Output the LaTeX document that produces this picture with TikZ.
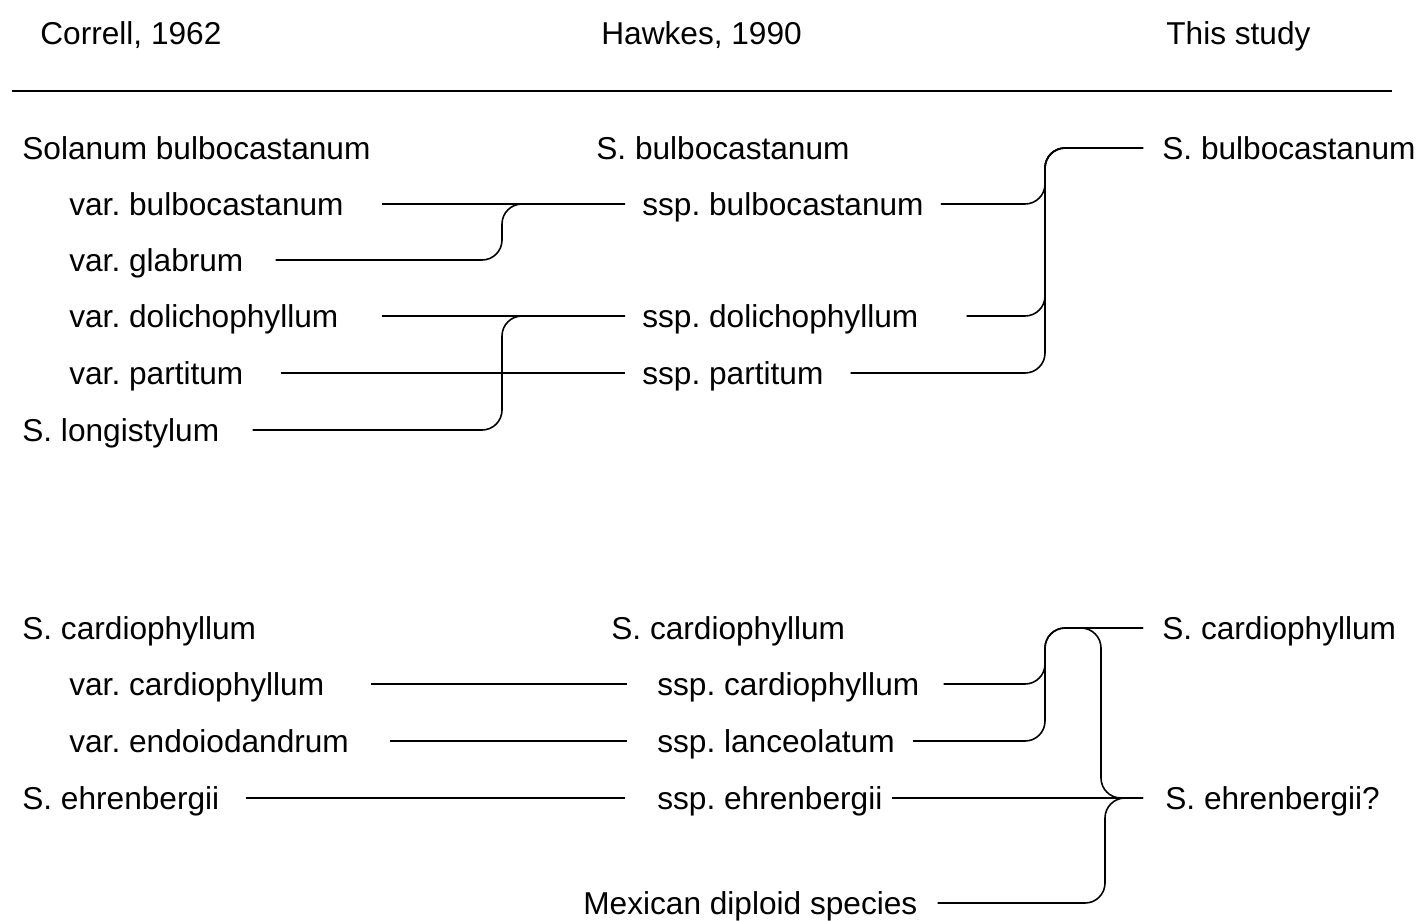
\documentclass[tikz,border=0pt]{standalone}
\usepackage{fontspec}
\setmainfont{Liberation Sans}
\frenchspacing
\usetikzlibrary{calc}

\begin{document}
\begin{tikzpicture}[
  x=0.02cm, y=-0.02cm,
  taxon/.style={anchor=west, inner sep=0pt, text height=13pt, text depth=0pt,
    font=\fontsize{18}{22}\selectfont},
  link/.style={line width=0.9pt, rounded corners=0.4cm,
    shorten <=0.74cm, shorten >=0.34cm},
]
\useasboundingbox (0,0) rectangle (1416,920);

% column heads
\node[taxon] (correll) at (40,33) {Correll, 1962};
\node[taxon] (hawkes) at (601,33) {Hawkes, 1990};
\node[taxon] (study) at (1166,33) {This study};
\draw[line width=1.3pt] (12,91) -- (1392,91);

% junction columns
\coordinate (jleft) at (502,0);
\coordinate (jright) at (1045,0);
\coordinate (jtop) at (1101,0);
\coordinate (jbot) at (1105,0);

% bulbocastanum group
\node[taxon] (cbulb) at (22,148) {Solanum bulbocastanum};
\node[taxon] (cvb) at (69,204) {var. bulbocastanum};
\node[taxon] (cvg) at (69,260) {var. glabrum};
\node[taxon] (cvd) at (69,316) {var. dolichophyllum};
\node[taxon] (cvp) at (69,373) {var. partitum};
\node[taxon] (clong) at (22,430) {S. longistylum};

\node[taxon] (hbulb) at (596,148) {S. bulbocastanum};
\node[taxon] (hsb) at (642,204) {ssp. bulbocastanum};
\node[taxon] (hsd) at (642,316) {ssp. dolichophyllum};
\node[taxon] (hsp) at (642,373) {ssp. partitum};

\node[taxon] (tbulb) at (1162,148) {S. bulbocastanum};

\draw[link, shorten <=0.76cm] (cvb.east) -- (hsb.west);
\draw[link, shorten <=0.64cm] (cvg.east) -| (jleft |- hsb.west) -- (hsb.west);
\draw[link, shorten <=0.86cm] (cvd.east) -- (hsd.west);
\draw[link] (cvp.east) -- (hsp.west);
\draw[link, shorten <=0.66cm] (clong.east) -| (jleft |- hsd.west) -- (hsd.west);

\draw[link, shorten <=0.34cm, shorten >=0.38cm] (hsb.east) -| (jright |- tbulb.west) -- (tbulb.west);
\draw[link, shorten <=0.96cm, shorten >=0.38cm] (hsd.east) -| (jright |- tbulb.west) -- (tbulb.west);
\draw[link, shorten <=0.54cm, shorten >=0.38cm] (hsp.east) -| (jright |- tbulb.west) -- (tbulb.west);

% cardiophyllum group
\node[taxon] (ccard) at (22,628) {S. cardiophyllum};
\node[taxon] (cvc) at (69,684) {var. cardiophyllum};
\node[taxon] (cve) at (69,741) {var. endoiodandrum};
\node[taxon] (cehr) at (22,798) {S. ehrenbergii};

\node[taxon] (hcard) at (611,628) {S. cardiophyllum};
\node[taxon] (hsc) at (657,684) {ssp. cardiophyllum};
\node[taxon] (hsl) at (657,741) {ssp. lanceolatum};
\node[taxon] (hse) at (657,798) {ssp. ehrenbergii};
\node[taxon] (mexican) at (583,903) {Mexican diploid species};

\node[taxon] (tcard) at (1162,628) {S. cardiophyllum};
\node[taxon] (tehr) at (1165,798) {S. ehrenbergii?};

\draw[link, shorten <=0.92cm, shorten >=0.6cm] (cvc.east) -- (hsc.west);
\draw[link, shorten <=0.82cm, shorten >=0.6cm] (cve.east) -- (hsl.west);
\draw[link, shorten <=0.52cm, shorten >=0.64cm] (cehr.east) -- (hse.west);

\draw[link, shorten <=0.48cm, shorten >=0.38cm] (hsc.east) -| (jright |- tcard.west) -- (tcard.west);
\draw[link, shorten <=0.36cm, shorten >=0.38cm] (hsl.east) -| (jright |- tcard.west) -- (tcard.west);
\draw[link, shorten <=0.18cm, shorten >=0.44cm] (hse.east) -- (tehr.west);

% brace onto S. ehrenbergii?
\draw[link, shorten <=0pt, shorten >=0.44cm] ($(jtop |- tcard.west)+(-20,0)$) -| (jtop |- tehr.west) -- (tehr.west);
\draw[link, shorten <=0.4cm, shorten >=0.44cm] (mexican.east) -| (jbot |- tehr.west) -- (tehr.west);
\end{tikzpicture}
\end{document}
